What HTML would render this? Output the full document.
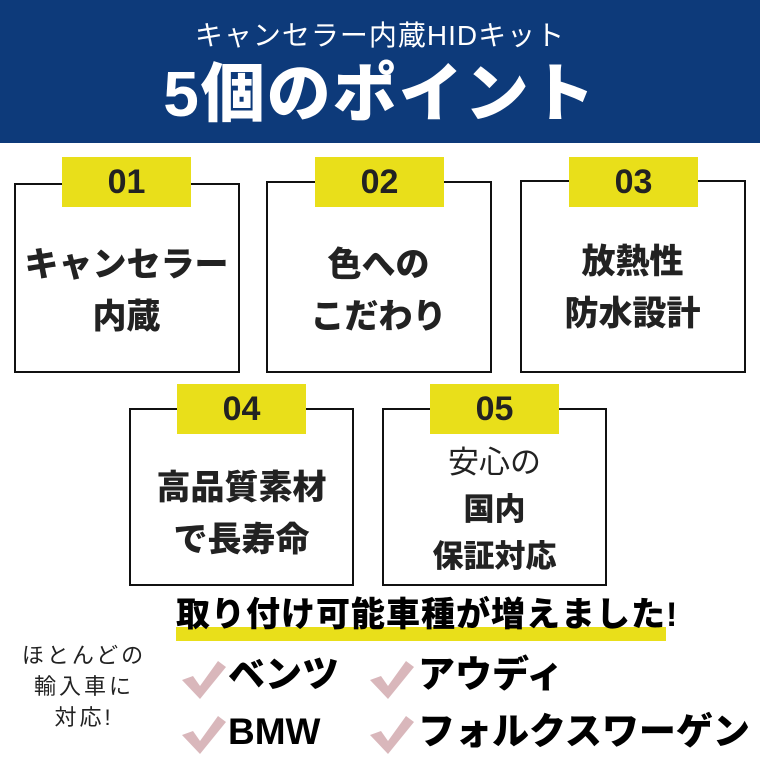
<!DOCTYPE html>
<html><head><meta charset="utf-8"><style>
*{margin:0;padding:0;box-sizing:border-box}
body{width:760px;height:760px;background:#fff;position:relative;overflow:hidden;font-family:"Liberation Sans","Noto Sans CJK JP",sans-serif;color:#222}
.hd{position:absolute;left:0;top:0;width:760px;height:143px;background:#0d3a7a}
.t1{position:absolute;top:14px;width:760px;text-align:center;color:#fff;font-size:28px;letter-spacing:1px}
.t2{position:absolute;top:56px;width:760px;text-align:center;color:#fff;font-size:64px;font-weight:900;line-height:76px;letter-spacing:2px}
.box{position:absolute;border:2px solid #111;background:#fff}
.tag{position:absolute;width:129px;height:50px;background:#e9df1a;font-size:34px;font-weight:900;text-align:center;line-height:50px;color:#222}
.bt{position:absolute;width:225px;text-align:center;font-weight:900;font-size:34px;line-height:52px;color:#222}
.ck{position:absolute}
.br{position:absolute;font-size:37px;font-weight:900;color:#000;line-height:40px}
</style></head><body>
<div class="hd"></div>
<div class="t1">キャンセラー内蔵HIDキット</div>
<div class="t2">5個のポイント</div>

<div class="box" style="left:14px;top:183px;width:226px;height:190px"></div>
<div class="box" style="left:266px;top:181px;width:226px;height:192px"></div>
<div class="box" style="left:520px;top:180px;width:226px;height:193px"></div>
<div class="box" style="left:129px;top:408px;width:225px;height:178px"></div>
<div class="box" style="left:382px;top:408px;width:225px;height:178px"></div>

<div class="tag" style="left:62px;top:157px">01</div>
<div class="tag" style="left:315px;top:157px">02</div>
<div class="tag" style="left:569px;top:157px">03</div>
<div class="tag" style="left:177px;top:384px">04</div>
<div class="tag" style="left:430px;top:384px">05</div>

<div class="bt" style="left:14px;top:239px">キャンセラー<br>内蔵</div>
<div class="bt" style="left:266px;top:239px">色への<br>こだわり</div>
<div class="bt" style="left:520px;top:236px">放熱性<br>防水設計</div>
<div class="bt" style="left:129px;top:462px">高品質素材<br>で長寿命</div>
<div class="bt" style="left:382px;top:439px;font-size:31px;line-height:47px"><span style="font-weight:400">安心の</span><br>国内<br>保証対応</div>

<div style="position:absolute;left:176px;top:627px;width:490px;height:14px;background:#e9df1a"></div>
<div style="position:absolute;left:176px;top:595px;font-size:34px;font-weight:900;color:#000;line-height:40px;letter-spacing:1px">取り付け可能車種が増えました!</div>

<div style="position:absolute;left:14px;top:640px;width:140px;text-align:center;font-size:22px;line-height:31px;color:#222;letter-spacing:3px">ほとんどの<br>輸入車に<br>対応!</div>

<svg class="ck" style="left:180px;top:658px" width="48" height="42"><path d="M2 22 L13 18 L20 28 L38 3 L46 9 L20 41 Z" fill="#d9b7bb"/></svg>
<svg class="ck" style="left:368px;top:658px" width="48" height="42"><path d="M2 22 L13 18 L20 28 L38 3 L46 9 L20 41 Z" fill="#d9b7bb"/></svg>
<svg class="ck" style="left:180px;top:713px" width="48" height="42"><path d="M2 22 L13 18 L20 28 L38 3 L46 9 L20 41 Z" fill="#d9b7bb"/></svg>
<svg class="ck" style="left:368px;top:713px" width="48" height="42"><path d="M2 22 L13 18 L20 28 L38 3 L46 9 L20 41 Z" fill="#d9b7bb"/></svg>

<div class="br" style="left:228px;top:655px">ベンツ</div>
<div class="br" style="left:418px;top:655px">アウディ</div>
<div class="br" style="left:228px;top:712px">BMW</div>
<div class="br" style="left:418px;top:712px">フォルクスワーゲン</div>
</body></html>
